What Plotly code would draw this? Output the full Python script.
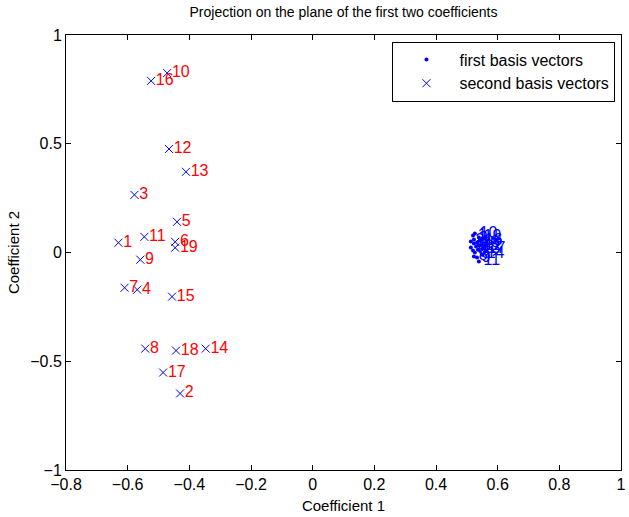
import plotly.graph_objects as go

# second basis vectors (red labels)
second_labels = [str(i) for i in range(1, 20)]
second_x = [-0.630, -0.430, -0.578, -0.569, -0.440, -0.446, -0.610, -0.543, -0.559, -0.472,
            -0.546, -0.466, -0.411, -0.347, -0.456, -0.524, -0.485, -0.443, -0.446]
second_y = [0.045, -0.648, 0.265, -0.171, 0.141, 0.049, -0.162, -0.442, -0.033, 0.825,
            0.072, 0.476, 0.371, -0.442, -0.203, 0.789, -0.552, -0.451, 0.022]

# first basis vectors (blue labels, tight cluster)
first_labels = [str(i) for i in range(1, 20)]
first_x = [0.520, 0.523, 0.513, 0.523, 0.513, 0.520, 0.526, 0.523, 0.533, 0.526,
           0.539, 0.542, 0.536, 0.549, 0.530, 0.542, 0.552, 0.533, 0.539]
first_y = [0.078, 0.060, 0.051, 0.041, 0.023, 0.009, 0.000, -0.018, -0.023, 0.087,
           -0.041, 0.032, 0.014, -0.009, 0.028, 0.055, 0.018, 0.046, 0.069]

blue = "rgb(0,0,255)"
red = "rgb(255,0,0)"
font = "Liberation Sans, Arial, Helvetica, sans-serif"

fig = go.Figure()
fig.add_trace(go.Scatter(x=first_x, y=first_y, mode="markers", name="first basis vectors",
                         marker=dict(symbol="circle", size=4, color=blue)))
fig.add_trace(go.Scatter(x=second_x, y=second_y, mode="markers", name="second basis vectors",
                         marker=dict(symbol="x-thin", size=8, line=dict(color=blue, width=1), color=blue)))
fig.add_trace(go.Scatter(x=first_x, y=first_y, mode="markers+text", text=first_labels, showlegend=False,
                         marker=dict(size=6, opacity=0),
                         textposition="middle right", textfont=dict(color=blue, size=16, family=font),
                         hoverinfo="skip"))
fig.add_trace(go.Scatter(x=second_x, y=second_y, mode="markers+text", text=second_labels, showlegend=False,
                         marker=dict(size=6, opacity=0),
                         textposition="middle right", textfont=dict(color=red, size=16, family=font),
                         hoverinfo="skip"))

axis_common = dict(showgrid=False, zeroline=False, showline=True, linecolor="black", linewidth=1,
                   mirror="ticks", ticks="inside", ticklen=5, tickcolor="black",
                   ticklabeloverflow="allow",
                   tickfont=dict(size=16, color="black", family=font))

fig.update_layout(
    width=629, height=517,
    margin=dict(l=66, r=3, t=35, b=47),
    paper_bgcolor="white", plot_bgcolor="white",
    font=dict(family=font, color="black", size=15),
    title=dict(text="Projection on the plane of the first two coefficients", x=0.5, xref="paper",
               xanchor="center", y=1, yref="container", yanchor="top", pad=dict(t=7),
               font=dict(size=14, color="black", family=font)),
    xaxis=dict(range=[-0.8, 1], tickvals=[-0.8, -0.6, -0.4, -0.2, 0, 0.2, 0.4, 0.6, 0.8, 1],
               ticktext=["\u22120.8", "\u22120.6", "\u22120.4", "\u22120.2", "0", "0.2", "0.4", "0.6", "0.8", "1"],
               title=dict(text="Coefficient 1", font=dict(size=15), standoff=8), **axis_common),
    yaxis=dict(range=[-1, 1], tickvals=[-1, -0.5, 0, 0.5, 1],
               ticktext=["\u22121", "\u22120.5", "0", "0.5", "1"],
               title=dict(text="Coefficient 2", font=dict(size=15), standoff=6), **axis_common),
    legend=dict(x=0.99, y=0.985, xanchor="right", yanchor="top", bgcolor="white",
                bordercolor="black", borderwidth=1, font=dict(size=16, family=font),
                itemwidth=56, tracegroupgap=0),
)

fig.write_html("out.html", config={"displayModeBar": False},
               post_script="document.body.style.margin='0';document.body.style.overflow='hidden';")
